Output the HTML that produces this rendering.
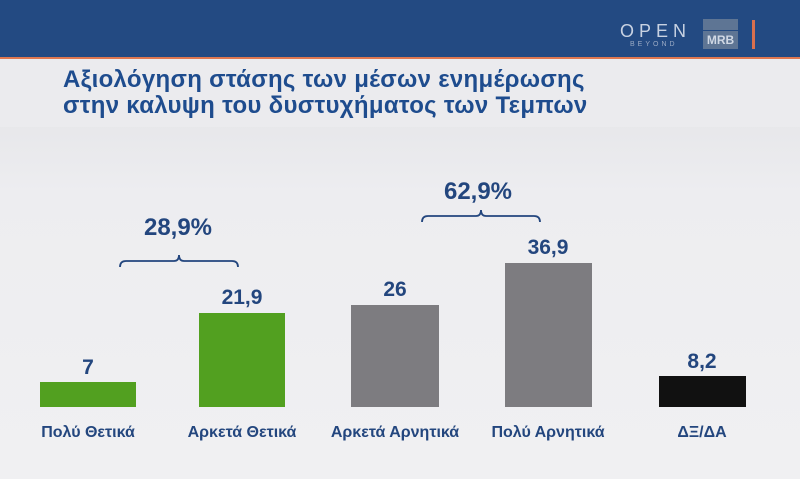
<!DOCTYPE html>
<html><head><meta charset="utf-8"><style>
body{margin:0;width:800px;height:479px;overflow:hidden;font-family:"Liberation Sans",sans-serif;background:linear-gradient(#dcdde0,#ededf0 40%,#f0f0f2);position:relative}
.hdr{position:absolute;left:0;top:0;width:800px;height:57px;background:#234a82}
.ol{position:absolute;left:0;top:57px;width:800px;height:2px;background:#e07850}
.tb{position:absolute;left:0;top:59px;width:800px;height:68px;background:#ebebee}
.t{position:absolute;left:63px;font-size:24px;font-weight:bold;color:#1e4c8e;white-space:nowrap;letter-spacing:0.3px}
.bar{position:absolute}
.v{position:absolute;font-size:21px;font-weight:bold;color:#23467e;text-align:center;width:120px}
.l{position:absolute;top:424px;font-size:16px;font-weight:bold;color:#23467e;text-align:center;width:160px}
</style></head><body>
<div class="hdr"></div><div class="ol"></div><div class="tb"></div>
<div style="position:absolute;left:620px;top:21px;color:#c8d2e2;font-size:18px;letter-spacing:5px">OPEN</div>
<div style="position:absolute;left:630px;top:41px;color:#9aaac4;font-size:7px;letter-spacing:3px">BEYOND</div>
<div style="position:absolute;left:703px;top:19px;width:35px;height:11px;background:#5e7594"></div>
<div style="position:absolute;left:703px;top:31px;width:35px;height:18px;background:#5e7594;color:#d0d8e4;font-size:12px;font-weight:bold;text-align:center;line-height:18px">MRB</div>
<div style="position:absolute;left:752px;top:20px;width:3px;height:29px;background:#d8704e"></div>
<div class="t" style="top:66px">Αξιολόγηση στάσης των μέσων ενημέρωσης</div>
<div class="t" style="top:92px">στην καλυψη του δυστυχήματος των Τεμπων</div>
<div class="bar" style="left:40px;top:382px;width:96px;height:25px;background:#52a020"></div>
<div class="bar" style="left:199px;top:313px;width:86px;height:94px;background:#52a020"></div>
<div class="bar" style="left:351px;top:305px;width:88px;height:102px;background:#7d7c80"></div>
<div class="bar" style="left:505px;top:263px;width:87px;height:144px;background:#7d7c80"></div>
<div class="bar" style="left:659px;top:376px;width:87px;height:31px;background:#111"></div>
<div class="v" style="left:28px;top:356px">7</div>
<div class="v" style="left:182px;top:286px">21,9</div>
<div class="v" style="left:335px;top:278px">26</div>
<div class="v" style="left:488px;top:236px">36,9</div>
<div class="v" style="left:642px;top:350px">8,2</div>
<div class="v" style="left:118px;top:214px;font-size:24px">28,9%</div>
<div class="v" style="left:418px;top:178px;font-size:24px">62,9%</div>
<svg style="position:absolute;left:0;top:0" width="800" height="479" fill="none" stroke="#23467e" stroke-width="1.8">
<path d="M120,267 q0,-6 6,-6 h48 q5,0 5,-6 q0,6 5,6 h48 q6,0 6,6"/>
<path d="M422,222 q0,-6 6,-6 h48 q5,0 5,-6 q0,6 5,6 h48 q6,0 6,6"/>
</svg>
<div class="l" style="left:8px">Πολύ Θετικά</div>
<div class="l" style="left:162px">Αρκετά Θετικά</div>
<div class="l" style="left:315px">Αρκετά Αρνητικά</div>
<div class="l" style="left:468px">Πολύ Αρνητικά</div>
<div class="l" style="left:622px">ΔΞ/ΔΑ</div>
</body></html>
